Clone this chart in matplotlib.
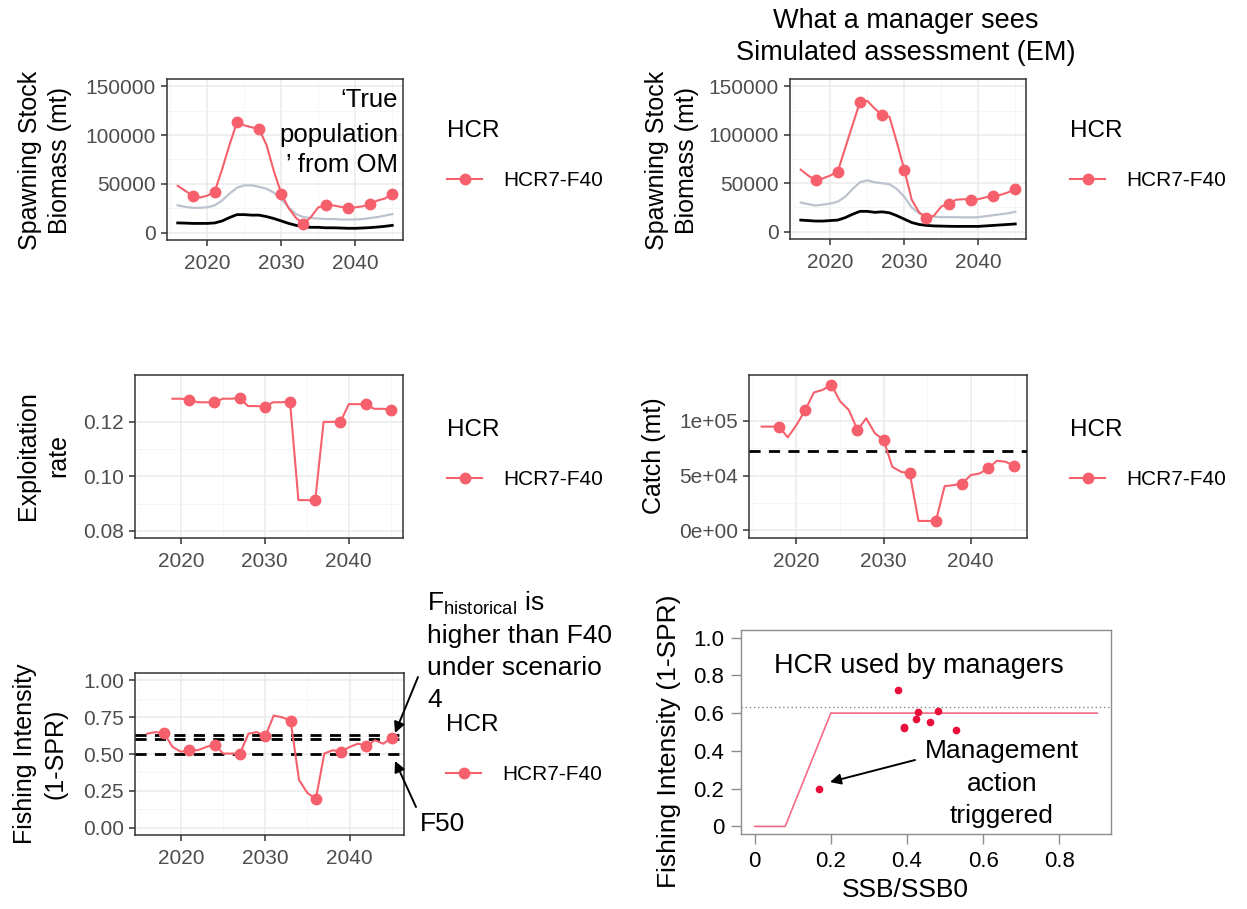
import matplotlib
matplotlib.use("Agg")
import numpy as np
import matplotlib.pyplot as plt
from matplotlib.patches import FancyArrowPatch
from matplotlib.ticker import FixedLocator

plt.rcParams["font.family"] = ["Liberation Sans", "DejaVu Sans"]
plt.rcParams["mathtext.fontset"] = "custom"
plt.rcParams["mathtext.rm"] = "Liberation Sans"
plt.rcParams["mathtext.it"] = "Liberation Sans:italic"

# ---------------------------------------------------------------- data
years = list(range(2016, 2046))

# operating model (true population) spawning stock biomass, mt
om_ssb = [48000, 43000, 38000, 36000, 38000, 42000, 65000, 90000, 113000, 110000,
          108000, 106000, 90000, 63000, 40000, 25000, 15000, 9000, 16000, 26000,
          28000, 28000, 26500, 25000, 26000, 27000, 29000, 33000, 35000, 40000]
om_ref_hi = [28000, 26500, 25500, 25500, 26000, 28000, 33000, 40000, 46000, 48500,
             48500, 47000, 45000, 41000, 34000, 26000, 19000, 16000, 15000, 14500,
             14000, 14000, 13500, 13500, 13500, 14000, 15000, 16000, 17500, 19000]
om_ref_lo = [10000, 9800, 9500, 9500, 9500, 10000, 12000, 15500, 18500, 18500,
             18000, 18000, 16500, 14500, 12000, 9500, 7500, 6000, 5500, 5500,
             5000, 5000, 4800, 4500, 4500, 4800, 5200, 5800, 6500, 7500]

# estimation model (assessment) spawning stock biomass, mt
em_ssb = [64000, 58000, 53000, 55000, 58000, 62000, 86000, 110000, 133500, 135000,
          127000, 120500, 118500, 92000, 64000, 33000, 20000, 14000, 16500, 26000,
          29000, 33000, 33500, 33000, 33500, 35500, 37000, 38000, 40500, 44000]
em_ref_hi = [30000, 28500, 27000, 28000, 29000, 31000, 36000, 44000, 51000, 53000,
             51000, 50000, 49000, 44000, 36000, 25000, 19000, 16500, 15500, 15000,
             15000, 15000, 14800, 14800, 15000, 16000, 17000, 18000, 19000, 20500]
em_ref_lo = [12000, 11500, 11000, 11000, 11500, 12000, 14500, 18000, 21000, 21000,
             20000, 20500, 19500, 16500, 13000, 9500, 7500, 6500, 6000, 5800,
             5600, 5500, 5500, 5500, 5500, 6000, 6500, 7000, 7500, 8000]

exploitation = [np.nan, np.nan, np.nan, 0.1285, 0.1285, 0.1282, 0.1272, 0.1272, 0.1272, 0.1285,
                0.1285, 0.1288, 0.1258, 0.1258, 0.1256, 0.1272, 0.1272, 0.1274, 0.0913, 0.0913,
                0.0912, 0.1200, 0.1200, 0.1200, 0.1265, 0.1265, 0.1265, 0.1248, 0.1248, 0.1245]

catch = [94800, 94800, 94800, 85000, 96300, 110000, 126000, 128400, 133000, 118000,
         110000, 91700, 102400, 88700, 82600, 58000, 53500, 52000, 8600, 8600,
         8600, 40400, 41300, 42800, 50500, 52000, 56600, 63600, 62700, 58700]
catch_ref = 72800

fishing_intensity = [0.638, 0.649, 0.642, 0.548, 0.515, 0.526, 0.526, 0.548, 0.564, 0.503,
                     0.503, 0.503, 0.638, 0.649, 0.620, 0.761, 0.749, 0.727, 0.324, 0.235,
                     0.195, 0.503, 0.526, 0.515, 0.548, 0.570, 0.555, 0.593, 0.570, 0.611]
fi_refs = [0.63, 0.60, 0.50]

# harvest control rule and assessed states
hcr_ratio = [0.0, 0.08, 0.2, 0.9]
hcr_intensity = [0.0, 0.0, 0.6, 0.6]
hcr_ref = 0.63
state_ratio = [0.170, 0.376, 0.393, 0.393, 0.425, 0.430, 0.461, 0.481, 0.530]
state_intensity = [0.197, 0.722, 0.519, 0.528, 0.567, 0.604, 0.555, 0.613, 0.511]

scenario = "HCR7-F40"
year_ticks = [2020, 2030, 2040]
ssb_ticks = [0, 50000, 100000, 150000]
ssb_labels = ["0", "50000", "100000", "150000"]
expl_ticks = [0.08, 0.10, 0.12]
expl_labels = ["0.08", "0.10", "0.12"]
catch_ticks = [0, 50000, 100000]
catch_labels = ["0e+00", "5e+04", "1e+05"]
fi_ticks = [0.0, 0.25, 0.5, 0.75, 1.0]
fi_labels = ["0.00", "0.25", "0.50", "0.75", "1.00"]
ratio_ticks = [0.0, 0.2, 0.4, 0.6, 0.8]
ratio_labels = ["0", "0.2", "0.4", "0.6", "0.8"]
hcr_ticks = [0.0, 0.2, 0.4, 0.6, 0.8, 1.0]
hcr_labels = ["0", "0.2", "0.4", "0.6", "0.8", "1.0"]

# ---------------------------------------------------------------- layout
W, H = 1247, 909
fig = plt.figure(figsize=(W / 100, H / 100), dpi=100)
fig.patch.set_facecolor("white")

RED = "#F5606C"
GREY_LINE = "#BCC2CE"


def rect(x0, y0, x1, y1):
    return [x0 / W, 1 - y1 / H, (x1 - x0) / W, (y1 - y0) / H]


def fp(x, y):
    return (x / W, 1 - y / H)


def gg_panel(box, yticks, ylabels, ylim):
    ax = fig.add_axes(rect(*box))
    ax.set_xlim(2014.55, 2046.45)
    ax.set_ylim(*ylim)
    ax.set_xticks(year_ticks)
    ax.set_xticklabels([str(y) for y in year_ticks])
    ax.set_yticks(yticks)
    ax.set_yticklabels(ylabels)
    ax.xaxis.set_minor_locator(FixedLocator([2015, 2025, 2035, 2045]))
    mids = [(a + b) / 2 for a, b in zip(yticks[:-1], yticks[1:])]
    ax.yaxis.set_minor_locator(FixedLocator(mids))
    ax.tick_params(which="minor", length=0)
    ax.tick_params(which="major", direction="out", length=4, width=1.1,
                   color="#333333", labelcolor="#4D4D4D", labelsize=15)
    ax.tick_params(axis="x", pad=6)
    ax.tick_params(axis="y", pad=4)
    ax.grid(which="major", color="#EBEBEB", lw=1.1)
    ax.grid(which="minor", color="#F5F5F5", lw=0.6)
    ax.set_axisbelow(True)
    for s in ax.spines.values():
        s.set_color("#333333")
        s.set_linewidth(1.1)
    return ax


def series(ax, values):
    line, = ax.plot(years, values, color=RED, lw=1.5, marker="o", ms=7.5,
                    markevery=slice(2, None, 3), zorder=4)
    return line


def gg_legend(ax, handle, x, y):
    ax.legend([handle], [scenario], title="HCR", loc="upper left",
              bbox_to_anchor=fp(x, y), bbox_transform=fig.transFigure,
              frameon=False, alignment="left", fontsize=15, title_fontsize=17.5,
              handlelength=1.7, handletextpad=1.0, borderpad=0, borderaxespad=0,
              labelspacing=1.4, numpoints=1)


def ylab(x, y, s, size=18, ls=1.35):
    fig.text(x / W, 1 - y / H, s, rotation=90, ha="center", va="center",
             multialignment="center", fontsize=size, linespacing=ls)


def line_text(x, y, s, size=19, ha="left"):
    fig.text(x / W, 1 - y / H, s, ha=ha, va="baseline", fontsize=size)


# ---- top left: true population
ax1 = gg_panel((167, 79, 403, 240), ssb_ticks, ssb_labels, (-7500, 157500))
ax1.plot(years, om_ref_hi, color=GREY_LINE, lw=1.6, zorder=2)
ax1.plot(years, om_ref_lo, color="black", lw=2.0, zorder=3)
h1 = series(ax1, om_ssb)
gg_legend(ax1, h1, 447, 120)
ylab(45, 160, "Spawning Stock\nBiomass (mt)")
line_text(398, 107, "\u2018True", 18.5, ha="right")
line_text(398, 142, "population", 18.5, ha="right")
line_text(398, 172, "\u2019 from OM", 18.5, ha="right")

# ---- top right: assessment
ax2 = gg_panel((790, 79, 1026, 239), ssb_ticks, ssb_labels, (-7500, 157500))
ax2.plot(years, em_ref_hi, color=GREY_LINE, lw=1.6, zorder=2)
ax2.plot(years, em_ref_lo, color="black", lw=2.0, zorder=3)
h2 = series(ax2, em_ssb)
gg_legend(ax2, h2, 1070, 120)
ylab(672, 160, "Spawning Stock\nBiomass (mt)")
line_text(906, 28, "What a manager sees", 19.5, ha="center")
line_text(906, 60, "Simulated assessment (EM)", 19.5, ha="center")

# ---- middle left: exploitation rate
ax3 = gg_panel((135, 375, 403, 538), expl_ticks, expl_labels, (0.0774, 0.1372))
h3 = series(ax3, exploitation)
gg_legend(ax3, h3, 447, 419)
ylab(43, 456, "Exploitation\nrate")

# ---- middle right: catch
ax4 = gg_panel((749, 375, 1027, 538), catch_ticks, catch_labels, (-7000, 142000))
ax4.axhline(catch_ref, color="black", lw=2.0, ls=(0, (4, 3)), zorder=3)
h4 = series(ax4, catch)
gg_legend(ax4, h4, 1070, 419)
ylab(654, 456, "Catch (mt)")

# ---- bottom left: fishing intensity
ax5 = gg_panel((135, 673, 404, 835), fi_ticks, fi_labels, (-0.05, 1.05))
for r in fi_refs:
    ax5.axhline(r, color="black", lw=2.0, ls=(0, (4, 3)), zorder=3)
h5 = series(ax5, fishing_intensity)
gg_legend(ax5, h5, 446, 714)
ylab(40, 754, "Fishing Intensity\n(1-SPR)")

line_text(427, 611, r"F$_{\mathrm{historical}}$ is")
line_text(427, 643, "higher than F40")
line_text(427, 675, "under scenario")
line_text(427, 707, "4")
line_text(420, 831, "F50")
arrow = dict(arrowstyle="-|>", color="black", lw=1.4, mutation_scale=16, shrinkA=0, shrinkB=0)
fig.add_artist(FancyArrowPatch(fp(418, 677), fp(395, 733), transform=fig.transFigure, **arrow))
fig.add_artist(FancyArrowPatch(fp(416, 807), fp(395, 761), transform=fig.transFigure, **arrow))

# ---- bottom right: harvest control rule
ax6 = fig.add_axes(rect(741, 630, 1111, 834))
ax6.set_xlim(-0.036, 0.936)
ax6.set_ylim(-0.04, 1.04)
ax6.axhline(hcr_ref, color="#8A8A8A", lw=1.0, ls=(0, (1, 2)))
ax6.plot(hcr_ratio, hcr_intensity, color="#F26C86", lw=1.2)
ax6.plot(state_ratio, state_intensity, ls="none", marker="o", ms=4.5,
         color="#E8103A", mec="#E8103A")
ax6.set_xticks(ratio_ticks)
ax6.set_xticklabels(ratio_labels)
ax6.set_yticks(hcr_ticks)
ax6.set_yticklabels(hcr_labels)
ax6.tick_params(direction="out", length=7, width=1, color="#8C8C8C",
                labelcolor="black", labelsize=16, pad=5)
for s in ax6.spines.values():
    s.set_color("#8C8C8C")
    s.set_linewidth(1.0)
fig.text(905 / W, 1 - 890 / H, "SSB/SSB0", ha="center", va="center", fontsize=19)
ylab(669, 741, "Fishing Intensity (1-SPR)", size=19)
line_text(919, 673, "HCR used by managers", 19.5, ha="center")
line_text(1002, 758, "Management", 19, ha="center")
line_text(1002, 791, "action", 19, ha="center")
line_text(1002, 823, "triggered", 19, ha="center")
fig.add_artist(FancyArrowPatch(fp(915, 760), fp(830, 782), transform=fig.transFigure, **arrow))

fig.savefig("out.png", dpi=100, facecolor="white")
